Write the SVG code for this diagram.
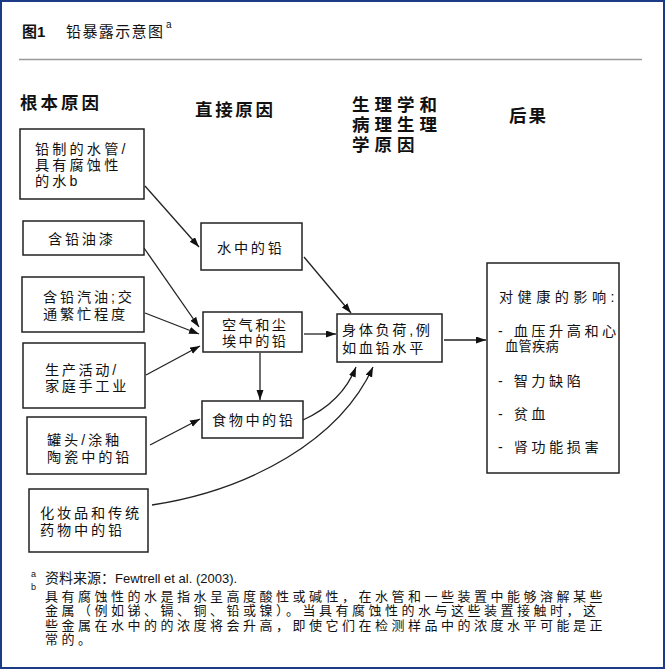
<svg xmlns="http://www.w3.org/2000/svg" width="665" height="669" viewBox="0 0 665 669">
<style>
text{font-family:"Liberation Sans","Noto Sans CJK SC",sans-serif;fill:#111;}
.t{font-size:14.2px;}
.h{font-size:17.5px;font-weight:bold;letter-spacing:5px;}
.fn{font-size:13px;}
.box{fill:#fff;stroke:#222;stroke-width:1.5;}
.ln{fill:none;stroke:#222;stroke-width:1.3;marker-end:url(#ah);}
</style>
<defs>
<marker id="ah" markerUnits="userSpaceOnUse" markerWidth="11" markerHeight="8" refX="10" refY="3.5" orient="auto">
<path d="M0,0 L10,3.5 L0,7 z" fill="#111"/>
</marker>
</defs>
<rect x="1" y="1" width="663" height="667" fill="#fff" stroke="#1c3b86" stroke-width="2"/>
<g id="title">
<text x="22" y="37" style="font-size:15px;font-weight:bold">图1</text>
<text x="66" y="37" style="font-size:15px" textLength="97" lengthAdjust="spacing">铅暴露示意图</text>
<text x="166" y="28" style="font-size:10px">a</text>
</g>
<line x1="19" y1="59.5" x2="642" y2="59.5" stroke="#9a9a9a" stroke-width="1.5"/>
<g id="headers">
<text class="h" x="20" y="109" textLength="84" lengthAdjust="spacing">根本原因</text>
<text class="h" x="195" y="116" textLength="83" lengthAdjust="spacing">直接原因</text>
<text class="h"><tspan x="352" y="111">生理学和</tspan><tspan x="352" y="131">病理生理</tspan><tspan x="352" y="151">学原因</tspan></text>
<text class="h" x="509" y="122" textLength="42" lengthAdjust="spacing">后果</text>
</g>
<g id="connectors">
<line class="ln" x1="145" y1="186" x2="199" y2="247"/>
<line class="ln" x1="144" y1="248" x2="199" y2="327"/>
<line class="ln" x1="145" y1="313" x2="199" y2="334"/>
<line class="ln" x1="146" y1="375" x2="200" y2="346"/>
<line class="ln" x1="150" y1="445" x2="200" y2="419"/>
<line class="ln" x1="260" y1="353" x2="260" y2="400"/>
<line class="ln" x1="304" y1="257" x2="351" y2="313"/>
<line class="ln" x1="304" y1="334" x2="336" y2="334"/>
<path class="ln" d="M303,420 C325,410 345,395 356,367"/>
<path class="ln" d="M152,505 C250,490 340,440 373,367"/>
<line class="ln" x1="444" y1="340" x2="486" y2="340"/>
</g>
<g id="n1">
<rect class="box" x="20" y="129" width="124" height="70"/>
<text class="t" style="letter-spacing:3.1px"><tspan x="35" y="154">铅制的水管/</tspan><tspan x="35" y="170">具有腐蚀性</tspan><tspan x="35" y="185.5">的水b</tspan></text>
</g>
<g id="n2">
<rect class="box" x="23" y="221" width="121" height="34"/>
<text class="t" x="48" y="244" textLength="65" lengthAdjust="spacing">含铅油漆</text>
</g>
<g id="n3">
<rect class="box" x="22" y="277" width="122" height="55"/>
<text class="t" style="letter-spacing:2.8px"><tspan x="43" y="302">含铅汽油;交</tspan><tspan x="43" y="319">通繁忙程度</tspan></text>
</g>
<g id="n4">
<rect class="box" x="23" y="343" width="122" height="65"/>
<text class="t" style="letter-spacing:2.6px"><tspan x="45" y="375">生产活动/</tspan><tspan x="45" y="391">家庭手工业</tspan></text>
</g>
<g id="n5">
<rect class="box" x="27" y="417" width="119" height="57"/>
<text class="t" style="letter-spacing:2.9px"><tspan x="47" y="445">罐头/涂釉</tspan><tspan x="47" y="462">陶瓷中的铅</tspan></text>
</g>
<g id="n6">
<rect class="box" x="29" y="489" width="119" height="63"/>
<text class="t" style="letter-spacing:2.8px"><tspan x="40" y="518">化妆品和传统</tspan><tspan x="40" y="535">药物中的铅</tspan></text>
</g>
<g id="water">
<rect class="box" x="201" y="223" width="101" height="47"/>
<text class="t" x="217" y="253" textLength="65" lengthAdjust="spacing">水中的铅</text>
</g>
<g id="air">
<rect class="box" x="203" y="312" width="99" height="40"/>
<text class="t" style="letter-spacing:2.4px"><tspan x="222" y="330">空气和尘</tspan><tspan x="222" y="346">埃中的铅</tspan></text>
</g>
<g id="food">
<rect class="box" x="202" y="401" width="101" height="37"/>
<text class="t" x="212" y="425" textLength="81" lengthAdjust="spacing">食物中的铅</text>
</g>
<g id="body">
<rect class="box" x="337" y="314" width="105" height="48"/>
<text class="t" style="letter-spacing:2.6px"><tspan x="342" y="335">身体负荷,例</tspan><tspan x="342" y="353">如血铅水平</tspan></text>
</g>
<g id="health">
<rect class="box" x="487" y="263" width="132" height="210"/>
<text class="t" style="letter-spacing:3.5px"><tspan x="499" y="302" style="letter-spacing:4.4px">对健康的影响:</tspan><tspan x="498" y="336">- 血压升高和心</tspan><tspan x="505" y="351" style="font-size:13.2px;letter-spacing:0.3px">血管疾病</tspan><tspan x="498" y="386">- 智力缺陷</tspan><tspan x="498" y="419">- 贫血</tspan><tspan x="498" y="452">- 肾功能损害</tspan></text>
</g>
<g id="footnotes">
<text x="31" y="577" style="font-size:9px">a</text>
<text class="fn" x="45" y="583"><tspan style="font-size:14px">资料来源：</tspan>Fewtrell et al. (2003).</text>
<text x="31" y="590" style="font-size:9px">b</text>
<text class="fn" style="letter-spacing:3.5px"><tspan x="45" y="601">具有腐蚀性的水是指水呈高度酸性或碱性，在水管和一些装置中能够溶解某些</tspan><tspan x="45" y="615.3">金属（例如锑、镉、铜、铅或镍）。当具有腐蚀性的水与这些装置接触时，这</tspan><tspan x="45" y="629.6">些金属在水中的的浓度将会升高，即使它们在检测样品中的浓度水平可能是正</tspan><tspan x="45" y="644">常的。</tspan></text>
</g>
</svg>
